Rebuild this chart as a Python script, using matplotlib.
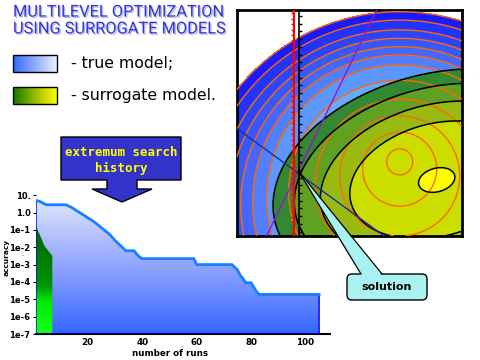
import numpy as np
import matplotlib
matplotlib.use("Agg")
import matplotlib.pyplot as plt
from matplotlib.patches import Polygon, Rectangle, FancyBboxPatch
from matplotlib.colors import LinearSegmentedColormap
import matplotlib.patheffects as pe

# ---------------- data: convergence history (bottom chart) ----------------
runs = [1, 2, 3, 4, 5, 12, 14, 16, 18, 20, 22, 24, 26, 28, 30, 32, 34, 37, 38, 39,
        40, 59, 60, 73, 74, 75, 76, 77, 78, 80, 81, 82, 83, 105]
accuracy = [5.0, 4.5, 4.0, 3.2, 2.8, 2.8, 2.0, 1.25, 0.8, 0.5, 0.32, 0.18, 0.1, 0.056,
            0.025, 0.0126, 6.3e-3, 6.3e-3, 4.0e-3, 2.8e-3, 2.2e-3, 2.2e-3, 1.0e-3,
            1.0e-3, 7.0e-4, 5.0e-4, 2.5e-4, 1.6e-4, 9.0e-5, 9.0e-5, 5.0e-5, 2.8e-5,
            1.9e-5, 1.9e-5]
surr_runs = [1, 2, 3, 4, 5, 6, 7]
surr_accuracy = [0.166, 0.071, 0.032, 0.0126, 0.0079, 0.005, 0.0032]
ytick_exp = [-7, -6, -5, -4, -3, -2, -1, 0, 1]
ytick_labels = ["1e-7", "1e-6", "1e-5", "1e-4", "1e-3", "1e-2", "1e-1", "1.0", "10."]
xtick_vals = [20, 40, 60, 80, 100]

# ---------------- data: model landscapes (contour panel, panel pixel units) ----------------
true_center = [163, 148]      # centre of smallest true-model contour
true_shift = 0.3              # downward drift of contour centres with radius
true_rings = [13, 37, 60, 84, 111, 133, 147, 159, 171, 183, 197, 209]
true_band_levels = [0, 111, 133, 147, 159, 171, 183, 197, 209]
true_band_colors = ["#66aaff", "#5c97ff", "#5080ff", "#4468ff", "#3858ff", "#2b45ff", "#2233ff", "#1a1aff"]
surr_center = [200, 170]
surr_axes = [167, 106]
surr_angle = 15.0
surr_levels = [0, 0.0123, 0.282, 0.505, 0.757, 1.0]
surr_colors = ["#ffff00", "#ccdd00", "#99bb11", "#62a022", "#338833"]
red_line_x = 57.3
black_line_x = 62.0
purple_line = [[140, 30], [0, 225.7]]
blue_line = [[0, 147], [118.3, 225.7]]

fig = plt.figure(figsize=(4.8, 3.6), dpi=100)
fig.patch.set_facecolor("white")

# ================= bottom chart =================
ax = fig.add_axes([36 / 480, 26 / 360, 294 / 480, 144 / 360])
ly = np.log10(accuracy)
verts = [(runs[0], -7)] + list(zip(runs, ly)) + [(runs[-1], -7)]
blue_patch = Polygon(verts, closed=True, facecolor="none", edgecolor="#0000ee", lw=1.0, zorder=3)
ax.add_patch(blue_patch)
grad = np.linspace(0, 1, 256).reshape(-1, 1)
cm_blue = LinearSegmentedColormap.from_list("bl", ["#3366ff", "#8fa4ff", "#dde4f8"])
im = ax.imshow(grad, extent=[runs[0], runs[-1], -7, max(ly)], origin="lower",
               cmap=cm_blue, aspect="auto", zorder=1, interpolation="bilinear")
im.set_clip_path(blue_patch)
ax.plot(runs, ly, color="#1a80ff", lw=2.0, zorder=4, solid_joinstyle="miter")

sly = np.log10(surr_accuracy)
gverts = [(surr_runs[0], -7)] + list(zip(surr_runs, sly)) + [(surr_runs[-1], -7)]
green_patch = Polygon(gverts, closed=True, facecolor="none", edgecolor="none", zorder=3)
ax.add_patch(green_patch)
cm_green = LinearSegmentedColormap.from_list(
    "gr", [(0.0, (0.1, 1.0, 0.1)), (0.3, (0.0, 0.92, 0.0)), (0.45, (0.0, 0.58, 0.0)), (1.0, (0.0, 0.38, 0.0))])
img = ax.imshow(grad, extent=[surr_runs[0], surr_runs[-1], -7, max(sly)], origin="lower",
                cmap=cm_green, aspect="auto", zorder=2, interpolation="bilinear")
img.set_clip_path(green_patch)

ax.set_xlim(1, 109)
ax.set_ylim(-7, 1.3)
for s in ["top", "right", "left"]:
    ax.spines[s].set_visible(False)
ax.spines["bottom"].set_linewidth(1.5)
ax.set_yticks(ytick_exp)
ax.set_yticklabels(ytick_labels, fontsize=6.0, fontweight="bold")
ax.set_xticks(xtick_vals)
ax.set_xticklabels([str(v) for v in xtick_vals], fontsize=6.3, fontweight="bold")
ax.tick_params(axis="y", length=2, pad=2, width=0.8)
ax.tick_params(axis="x", length=0, pad=3)
ax.set_facecolor("none")
fig.text(170 / 480, 1 - 354 / 360, "number of runs", ha="center", va="center",
         fontsize=6.3, fontweight="bold")
fig.text(6.5 / 480, 1 - 258 / 360, "accuracy", ha="center", va="center", rotation=90,
         fontsize=5.3, fontweight="bold")
fig.text(22.5 / 480, 1 - 255.5 / 360, "-", ha="center", va="center", fontsize=3.5)

# ================= contour panel =================
axc = fig.add_axes([236.7 / 480, (360 - 235.7) / 360, 225 / 480, 225.7 / 360])
xg = np.linspace(0, 225, 700)
yg = np.linspace(0, 225.7, 700)
X, Y = np.meshgrid(xg, yg)
dx = X - true_center[0]
dy = Y - true_center[1]
k = true_shift
R = (-k * dy + np.sqrt(k * k * dy * dy + (1 - k * k) * (dx * dx + dy * dy))) / (1 - k * k)
axc.contourf(X, Y, R, levels=true_band_levels, colors=true_band_colors, zorder=1)

th = np.deg2rad(surr_angle)
sx = X - surr_center[0]
sy = Y - surr_center[1]
p = sx * np.cos(th) - sy * np.sin(th)
q = sx * np.sin(th) + sy * np.cos(th)
S = (p / surr_axes[0]) ** 2 + (q / surr_axes[1]) ** 2
axc.contourf(X, Y, S, levels=surr_levels, colors=surr_colors, zorder=2)
axc.contour(X, Y, R, levels=true_rings, colors="#ff6a00", linewidths=1.0, zorder=3)
axc.contour(X, Y, S, levels=surr_levels[1:], colors="black", linewidths=1.1, zorder=4)

axc.plot(purple_line[0], purple_line[1], color="#9915cc", lw=1.0, zorder=5)
axc.plot(blue_line[0], blue_line[1], color="#14339a", lw=1.0, zorder=5)
axc.plot([red_line_x, red_line_x], [0, 225.7], color="#ff0000", lw=1.5, zorder=6)
rt = np.arange(3, 225, 5.5)
axc.plot(np.full(rt.size, red_line_x), rt, ls="none", marker=0, ms=2.5, mew=1.0, color="#ff0000", zorder=6)
axc.plot([black_line_x, black_line_x], [0, 225.7], color="black", lw=1.2, zorder=6)
bt = np.arange(6, 225, 7.7)
axc.plot(np.full(bt.size, black_line_x), bt, ls="none", marker=1, ms=2.5, mew=1.0, color="black", zorder=6)

axc.set_xlim(0, 225)
axc.set_ylim(225.7, 0)
axc.set_xticks([])
axc.set_yticks([])
for s in axc.spines.values():
    s.set_linewidth(2.0)
axc.set_facecolor("white")

# ================= overlay (annotations, legend, title) =================
ov = fig.add_axes([0, 0, 1, 1], zorder=10)
ov.set_facecolor("none")

title = ov.text(13, 20.5, "MULTILEVEL OPTIMIZATION\nUSING SURROGATE MODELS", ha="left", va="center",
                fontsize=11.8, family="Roboto", color="#3636cc", linespacing=1.15)
title.set_path_effects([pe.SimplePatchShadow(offset=(1.0, -1.0), shadow_rgbFace="#b4b8ff", alpha=1.0),
                        pe.Normal()])

hgrad = np.linspace(0, 1, 256).reshape(1, -1)
cm_true = LinearSegmentedColormap.from_list("tm", ["#3366ff", "#eef0ff"])
cm_surr = LinearSegmentedColormap.from_list("sm", ["#117700", "#99bb00", "#ffff00"])
ov.imshow(hgrad, extent=[13.3, 56.7, 71.7, 55], cmap=cm_true, aspect="auto", zorder=1)
ov.add_patch(Rectangle((13.3, 55), 43.4, 16.7, fill=False, ec="black", lw=1.0, zorder=2))
ov.imshow(hgrad, extent=[13.3, 56.7, 104, 87.3], cmap=cm_surr, aspect="auto", zorder=1)
ov.add_patch(Rectangle((13.3, 87.3), 43.4, 16.7, fill=False, ec="black", lw=1.0, zorder=2))
ov.text(71, 63.5, "- true model;", ha="left", va="center", fontsize=11.3, color="black")
ov.text(71, 95.5, "- surrogate model.", ha="left", va="center", fontsize=11.3, color="black")

arrow_pts = [(61, 137), (181, 137), (181, 180), (137, 180), (137, 189), (152, 189), (122, 202),
             (92, 189), (107, 189), (107, 180), (61, 180)]
ov.add_patch(Polygon(arrow_pts, closed=True, fc="#3333cc", ec="black", lw=1.0, zorder=3))
ov.text(121, 152, "extremum search", ha="center", va="center", fontsize=9.0,
        family="DejaVu Sans Mono", fontweight="bold", color="#ffff00", zorder=4)
ov.text(121, 168, "history", ha="center", va="center", fontsize=9.0,
        family="DejaVu Sans Mono", fontweight="bold", color="#ffff00", zorder=4)

cyan = "#aaf2f2"
ov.add_patch(FancyBboxPatch((347, 274), 80, 26, boxstyle="round,pad=0,rounding_size=5",
                            fc=cyan, ec="black", lw=1.0, zorder=3))
wedge = [(298.5, 171), (361, 275.5), (382, 275.5)]
ov.add_patch(Polygon(wedge, closed=True, fc=cyan, ec="none", zorder=4))
ov.plot([298.5, 361], [171, 274], color="black", lw=0.9, zorder=5)
ov.plot([298.5, 382], [171, 274], color="black", lw=0.9, zorder=5)
ov.text(387, 287.5, "solution", ha="center", va="center", fontsize=8, fontweight="bold",
        color="black", zorder=6)

ov.set_xlim(0, 480)
ov.set_ylim(360, 0)
ov.axis("off")

fig.savefig("out.png", dpi=100)
